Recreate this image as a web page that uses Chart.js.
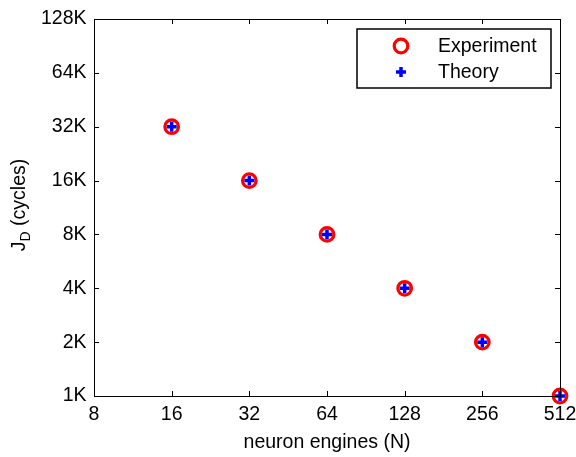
<!DOCTYPE html>
<html>
<head>
<meta charset="utf-8">
<script src="https://cdn.jsdelivr.net/npm/chart.js@4/dist/chart.umd.min.js"></script>
<style>
  html, body { margin: 0; padding: 0; background: #fff; }
  #wrap { width: 576px; height: 457px; }
</style>
</head>
<body>
<div id="wrap"><canvas id="c" width="576" height="457"></canvas></div>
<script>
// Neuron engine counts and measured / predicted cycle counts J_D
const engines = [16, 32, 64, 128, 256, 512];
const experimentCycles = [32768, 16384, 8192, 4096, 2048, 1024];
const theoryCycles = [32768, 16384, 8192, 4096, 2048, 1024];

// Axis tick values (powers of two)
const xTickValues = [8, 16, 32, 64, 128, 256, 512];
const yTickValues = [1024, 2048, 4096, 8192, 16384, 32768, 65536, 131072];
const yTickLabels = ['1K', '2K', '4K', '8K', '16K', '32K', '64K', '128K'];

const seriesNames = ['Experiment', 'Theory'];

const FONT = '"Liberation Sans", Arial, sans-serif';
const FS = 19.5;

// Box frame with inward ticks on all four sides, plus the y-axis title with subscript
const framePlugin = {
  id: 'frame',
  afterDraw(chart) {
    const ctx = chart.ctx;
    const a = chart.chartArea;
    const xs = chart.scales.x, ys = chart.scales.y;
    const tl = 5;
    ctx.save();
    ctx.strokeStyle = '#000';
    ctx.lineWidth = 1;
    ctx.beginPath();
    ctx.rect(Math.round(a.left) + 0.5, Math.round(a.top) + 0.5,
             Math.round(a.right - a.left), Math.round(a.bottom - a.top));
    ctx.stroke();
    ctx.beginPath();
    xTickValues.forEach(v => {
      const px = Math.round(xs.getPixelForValue(v)) + 0.5;
      ctx.moveTo(px, a.bottom); ctx.lineTo(px, a.bottom - tl);
      ctx.moveTo(px, a.top); ctx.lineTo(px, a.top + tl);
    });
    yTickValues.forEach(v => {
      const py = Math.round(ys.getPixelForValue(v)) + 0.5;
      ctx.moveTo(a.left, py); ctx.lineTo(a.left + tl, py);
      ctx.moveTo(a.right, py); ctx.lineTo(a.right - tl, py);
    });
    ctx.stroke();

    // y-axis title: J_D (cycles)
    ctx.translate(25, 205);
    ctx.rotate(-Math.PI / 2);
    ctx.fillStyle = '#000';
    ctx.textBaseline = 'alphabetic';
    ctx.textAlign = 'left';
    ctx.font = FS + 'px ' + FONT;
    const jW = ctx.measureText('J').width;
    ctx.font = '14px ' + FONT;
    const dW = ctx.measureText('D').width;
    ctx.font = FS + 'px ' + FONT;
    const restW = ctx.measureText(' (cycles)').width;
    const total = jW + dW + restW;
    const x0 = -total / 2;
    ctx.fillText('J', x0, 0);
    ctx.font = '14px ' + FONT;
    ctx.fillText('D', x0 + jW, 5);
    ctx.font = FS + 'px ' + FONT;
    ctx.fillText(' (cycles)', x0 + jW + dW, 0);
    ctx.restore();
  }
};

// Legend box in the upper-right corner of the plot
const legendPlugin = {
  id: 'boxLegend',
  afterDraw(chart) {
    const ctx = chart.ctx;
    const bx = 357, by = 29, bw = 194, bh = 59;
    ctx.save();
    ctx.fillStyle = '#fff';
    ctx.fillRect(bx, by, bw, bh);
    ctx.strokeStyle = '#000';
    ctx.lineWidth = 1.5;
    ctx.strokeRect(bx, by, bw, bh);
    const rows = [46, 72];
    chart.data.datasets.forEach((ds, i) => {
      ctx.lineWidth = ds.borderWidth;
      ctx.strokeStyle = ds.borderColor;
      ctx.fillStyle = ds.backgroundColor;
      Chart.helpers.drawPoint(ctx, {
        pointStyle: ds.pointStyle, radius: ds.pointRadius, rotation: 0,
        borderWidth: ds.borderWidth
      }, 401, rows[i]);
      ctx.fillStyle = '#000';
      ctx.font = FS + 'px ' + FONT;
      ctx.textBaseline = 'middle';
      ctx.textAlign = 'left';
      ctx.fillText(ds.label, 438, rows[i] + 1);
    });
    ctx.restore();
  }
};

new Chart(document.getElementById('c'), {
  type: 'scatter',
  data: {
    datasets: [
      {
        label: seriesNames[0],
        data: engines.map((n, i) => ({ x: n, y: experimentCycles[i] })),
        order: 2,
        pointStyle: 'circle',
        pointRadius: 6.8,
        pointHoverRadius: 6.8,
        borderWidth: 3.2,
        borderColor: '#ff0000',
        backgroundColor: '#ffffff',
        clip: false
      },
      {
        label: seriesNames[1],
        data: engines.map((n, i) => ({ x: n, y: theoryCycles[i] })),
        order: 1,
        pointStyle: 'cross',
        pointRadius: 5,
        pointHoverRadius: 5,
        borderWidth: 3.5,
        borderColor: '#0000ff',
        backgroundColor: '#0000ff',
        clip: false
      }
    ]
  },
  options: {
    responsive: false,
    animation: false,
    events: [],
    layout: { padding: { top: 19, right: 16, left: 0, bottom: 0 } },
    plugins: {
      legend: { display: false },
      tooltip: { enabled: false }
    },
    scales: {
      x: {
        type: 'logarithmic',
        min: 8, max: 512,
        afterBuildTicks: s => { s.ticks = xTickValues.map(v => ({ value: v })); },
        afterFit: s => { s.height = 61; s.paddingLeft = 0; s.paddingRight = 0; },
        grid: { display: false, drawTicks: false },
        border: { display: false },
        ticks: {
          autoSkip: false, maxRotation: 0, padding: 7,
          color: '#000', font: { family: FONT, size: FS },
          callback: v => String(v)
        },
        title: {
          display: true, text: 'neuron engines (N)', color: '#000',
          font: { family: FONT, size: FS }, padding: { top: 0, bottom: 3 }
        }
      },
      y: {
        type: 'logarithmic',
        min: 1024, max: 131072,
        afterBuildTicks: s => { s.ticks = yTickValues.map(v => ({ value: v })); },
        afterFit: s => { s.width = 94; s.paddingTop = 0; s.paddingBottom = 0; },
        grid: { display: false, drawTicks: false },
        border: { display: false },
        ticks: {
          autoSkip: false, padding: 7.5,
          color: '#000', font: { family: FONT, size: FS },
          callback: v => yTickLabels[yTickValues.indexOf(v)]
        }
      }
    }
  },
  plugins: [framePlugin, legendPlugin]
});
</script>
</body>
</html>
